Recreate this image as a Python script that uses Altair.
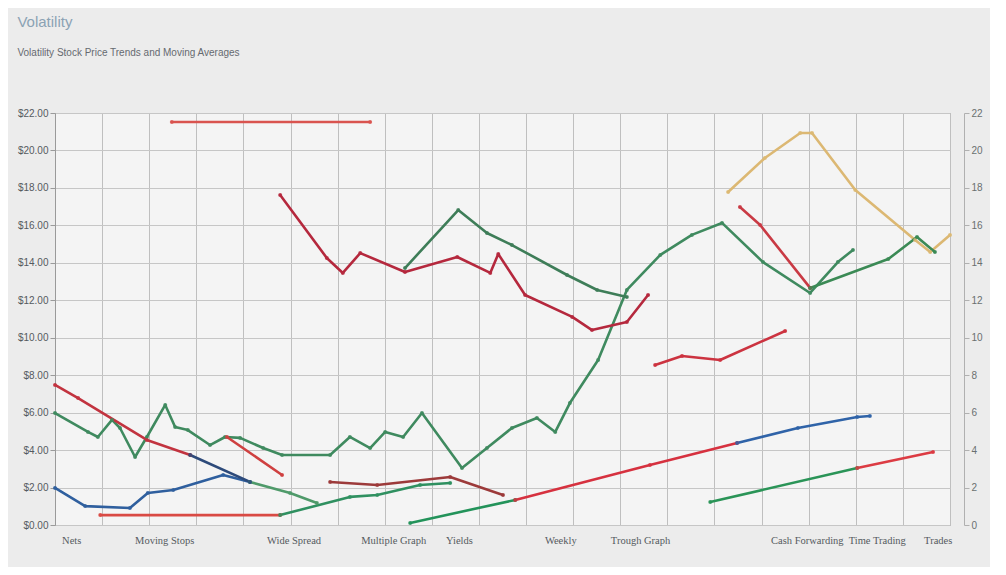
import altair as alt
import pandas as pd

# ---- data ----
x_labels = ["Nets", "Moving Stops", "Wide Spread", "Multiple Graph", "Yields",
            "Weekly", "Trough Graph", "Cash Forwarding", "Time Trading", "Trades"]
x_label_pos = [0.15, 1.7, 4.5, 6.5, 8.3, 10.4, 11.8, 15.2, 16.85, 18.45]

red_upper_x = [4.78, 5.77, 6.11, 6.48, 7.43, 8.54, 9.24, 9.41, 9.98, 10.98, 11.40, 12.14, 12.59]
red_upper_y = [17.62, 14.26, 13.46, 14.52, 13.51, 14.31, 13.46, 14.47, 12.28, 11.11, 10.41, 10.84, 12.28]

green_upper_x = [7.43, 8.56, 9.17, 9.70, 10.87, 11.51, 12.14]
green_upper_y = [13.72, 16.82, 15.59, 14.95, 13.35, 12.55, 12.18]

green_long_x = [0.0, 0.70, 0.91, 1.21, 1.38, 1.70, 1.95, 2.34, 2.55, 2.82, 3.29, 3.61, 3.93, 4.42, 4.82,
                5.84, 6.26, 6.69, 7.01, 7.39, 7.79, 8.64, 9.17, 9.70, 10.23, 10.62, 10.93, 11.53,
                12.14, 12.85, 13.52, 14.16, 15.03, 16.03, 16.62, 16.94]
green_long_y = [5.98, 4.97, 4.70, 5.61, 5.18, 3.63, 4.70, 6.41, 5.23, 5.07, 4.27, 4.70, 4.65, 4.11, 3.74,
                3.74, 4.70, 4.11, 4.97, 4.70, 5.98, 3.04, 4.11, 5.18, 5.71, 4.97, 6.51, 8.81,
                12.55, 14.42, 15.49, 16.13, 14.04, 12.39, 14.04, 14.69]

orange_x = [14.29, 15.07, 15.82, 16.07, 16.99, 18.26, 18.58, 19.0]
orange_y = [17.78, 19.60, 20.93, 20.93, 17.89, 15.22, 14.58, 15.49]

red_right_x = [14.54, 14.97, 16.03]
red_right_y = [16.98, 16.02, 12.66]

green_right_x = [16.03, 17.69, 18.30, 18.68]
green_right_y = [12.66, 14.20, 15.38, 14.58]

red_mid_x = [12.74, 13.31, 14.12, 15.50]
red_mid_y = [8.54, 9.02, 8.81, 10.36]

red_left_x = [0.0, 0.49, 1.95, 2.87]
red_left_y = [7.48, 6.78, 4.54, 3.74]

navy_left_x = [2.87, 4.14]
navy_left_y = [3.74, 2.30]

red_left2_x = [3.65, 4.82]
red_left2_y = [4.70, 2.67]

blue_low_x = [0.0, 0.64, 1.59, 1.97, 2.51, 3.57, 4.14]
blue_low_y = [1.98, 1.01, 0.91, 1.71, 1.87, 2.67, 2.30]

green_low_x = [4.14, 4.99, 5.56]
green_low_y = [2.30, 1.71, 1.17]

red_flat_x = [0.96, 4.78]
red_flat_y = [0.53, 0.53]

green_rise_x = [4.78, 6.26, 6.84, 7.75, 8.39]
green_rise_y = [0.53, 1.50, 1.60, 2.14, 2.24]

maroon_x = [5.84, 6.84, 8.39, 9.51]
maroon_y = [2.30, 2.14, 2.56, 1.60]

green_lr_x = [7.54, 9.77]
green_lr_y = [0.11, 1.34]

red_lr_x = [9.77, 12.63, 14.48]
red_lr_y = [1.34, 3.20, 4.38]

blue_lr_x = [14.48, 15.77, 17.03, 17.30]
blue_lr_y = [4.38, 5.18, 5.77, 5.82]

green_br_x = [13.91, 17.03]
green_br_y = [1.23, 3.04]

red_br_x = [17.03, 18.64]
red_br_y = [3.04, 3.90]

red_top_x = [2.48, 6.69]
red_top_y = [21.52, 21.52]

series = [
    ("red_top", "#d9544f", red_top_x, red_top_y),
    ("blue_low", "#2f5f9e", blue_low_x, blue_low_y),
    ("green_low", "#4f9a6a", green_low_x, green_low_y),
    ("red_flat", "#d94a44", red_flat_x, red_flat_y),
    ("green_rise", "#2f9060", green_rise_x, green_rise_y),
    ("maroon", "#9c3a3a", maroon_x, maroon_y),
    ("green_lr", "#23935a", green_lr_x, green_lr_y),
    ("red_lr", "#d6313f", red_lr_x, red_lr_y),
    ("blue_lr", "#2f63a8", blue_lr_x, blue_lr_y),
    ("green_br", "#2a9457", green_br_x, green_br_y),
    ("red_br", "#dc3b43", red_br_x, red_br_y),
    ("green_long", "#3f8a5f", green_long_x, green_long_y),
    ("red_left", "#c2333f", red_left_x, red_left_y),
    ("navy_left", "#2d4a7a", navy_left_x, navy_left_y),
    ("red_left2", "#cf4040", red_left2_x, red_left2_y),
    ("orange", "#dcb873", orange_x, orange_y),
    ("green_upper", "#3e7d58", green_upper_x, green_upper_y),
    ("red_upper", "#b5283d", red_upper_x, red_upper_y),
    ("red_mid", "#cc3340", red_mid_x, red_mid_y),
    ("red_right", "#c93a44", red_right_x, red_right_y),
    ("green_right", "#3b8a55", green_right_x, green_right_y),
]

rows = []
for name, color, xs, ys in series:
    for i, (xv, yv) in enumerate(zip(xs, ys)):
        rows.append({"seg": name, "ord": i, "x": xv, "y": yv})
df = pd.DataFrame(rows)

seg_domain = [s[0] for s in series]
seg_range = [s[1] for s in series]

W, H = 895, 412

xscale = alt.Scale(domain=[0, 19], nice=False)
yscale = alt.Scale(domain=[0, 22], nice=False)
color = alt.Color("seg:N", scale=alt.Scale(domain=seg_domain, range=seg_range), legend=None)

lines = alt.Chart(df).mark_line(strokeWidth=2.6, strokeCap="round", strokeJoin="round").encode(
    x=alt.X("x:Q", scale=xscale,
            axis=alt.Axis(values=list(range(0, 20)), labels=False, ticks=False, title=None,
                          grid=True, gridColor="#bfbfbf", gridWidth=1, domain=False)),
    y=alt.Y("y:Q", scale=yscale,
            axis=alt.Axis(values=list(range(0, 23, 2)), format="$.2f", title=None,
                          grid=True, gridColor="#c6c6c6", gridWidth=1, domainColor="#9a9a9a",
                          tickColor="#9a9a9a", labelColor="#555a60", labelFontSize=10,
                          labelFont="Liberation Sans")),
    color=color,
    detail="seg:N",
    order="ord:Q",
)

points = alt.Chart(df).mark_point(filled=True, size=16, opacity=0.85).encode(
    x=alt.X("x:Q", scale=xscale),
    y=alt.Y("y:Q", scale=yscale,
            axis=alt.Axis(values=list(range(0, 23, 2)), format=".0f", orient="right", title=None,
                          grid=False, domainColor="#b0b0b0", tickColor="#b0b0b0",
                          labelColor="#6a7070", labelFontSize=10, offset=14,
                          labelFont="Liberation Sans")),
    color=color,
)

lab_df = pd.DataFrame({"pos": x_label_pos, "label": x_labels})
labels = alt.Chart(lab_df).mark_text(
    align="left", baseline="middle", fontSize=10.5, color="#555a60", font="Liberation Serif"
).encode(
    x=alt.X("pos:Q", scale=xscale),
    y=alt.value(H + 16),
    text="label:N",
)

chart = alt.layer(lines, points, labels).resolve_axis(y="independent").properties(
    width=W,
    height=H,
    autosize=alt.AutoSizeParams(type="none"),
    padding={"left": 47, "right": 40, "top": 105, "bottom": 42},
    background="#ececec",
    title=alt.Title(
        "Volatility",
        subtitle="Volatility Stock Price Trends and Moving Averages",
        anchor="start",
        offset=50,
        fontSize=15,
        fontWeight="normal",
        color="#8ba2b4",
        font="Liberation Sans",
        subtitleFontSize=10,
        subtitleColor="#666a70",
        subtitlePadding=18,
        subtitleFont="Liberation Sans",
    ),
).configure_view(fill="#f4f4f4", stroke="#9a9a9a")

chart.save("out.html", embed_options={"renderer": "svg", "actions": False})
